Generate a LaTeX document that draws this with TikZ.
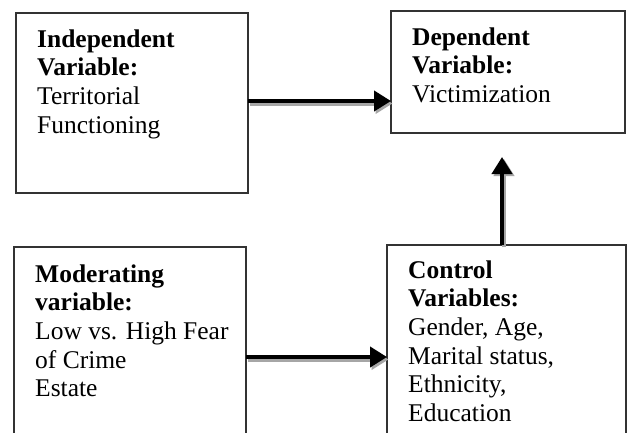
\documentclass[tikz,border=0pt]{standalone}
\usepackage{fontspec}
\setmainfont{Liberation Serif}
\usetikzlibrary{arrows.meta}
\begin{document}
\begin{tikzpicture}[x=1pt,y=-1pt,
  box/.style={draw=black!80,line width=1.3pt,anchor=north west,inner sep=0pt,outer sep=0pt},
  lbl/.style={anchor=base west,inner sep=0pt,align=left,font=\fontsize{25.5}{28.7}\selectfont},
  arr/.style={line width=4pt,-{Triangle[length=17pt,width=20pt]}},
  shad/.style={arr,draw=black!35,fill=black!35}]
\useasboundingbox (0,0) rectangle (628,432);
\clip (0,0) rectangle (628,432);
\fill[white] (0,0) rectangle (628,432);
% boxes
\node (b1) [box,minimum width=232pt,minimum height=180pt] at (16,13) {};
\node (b2) [box,minimum width=234pt,minimum height=122pt] at (391,11) {};
\node (b3) [box,minimum width=232pt,minimum height=220pt] at (14,247) {};
\node (b4) [box,minimum width=239pt,minimum height=220pt] at (387,245) {};
% texts (anchored at the baseline of the last line)
\node (t1) [lbl] at (37,133.1) {\textbf{Independent}\\\textbf{Variable:}\\Territorial\\Functioning};
\node (t2) [lbl] at (412,102.4) {\textbf{Dependent}\\\textbf{Variable:}\\Victimization};
\node (t3) [lbl] at (35,396.8) {\textbf{Moderating}\\\textbf{variable:}\\Low vs. High Fear\\of Crime\\Estate};
\node (t4) [lbl] at (408,421.5) {\textbf{Control}\\\textbf{Variables:}\\Gender, Age,\\Marital status,\\Ethnicity,\\Education};
% arrows
\coordinate (a3) at (502,157);
\draw[shad] ([xshift=1.5pt,yshift=-0.5pt]b1.east) -- ([xshift=1.5pt,yshift=-0.5pt]b1.east -| b2.west);
\draw[shad] ([xshift=1.5pt,yshift=-2.5pt]b3.east) -- ([xshift=1.5pt,yshift=-2.5pt]b3.east -| b4.west);
\draw[shad] ([xshift=2pt,yshift=-2pt]a3 |- b4.north) -- ([xshift=2pt,yshift=-2pt]a3);
\draw[arr] ([yshift=2pt]b1.east) -- ([yshift=2pt]b1.east -| b2.west);
\draw[arr] (b3.east) -- (b3.east -| b4.west);
\draw[arr] (a3 |- b4.north) -- (a3);
\end{tikzpicture}
\end{document}
